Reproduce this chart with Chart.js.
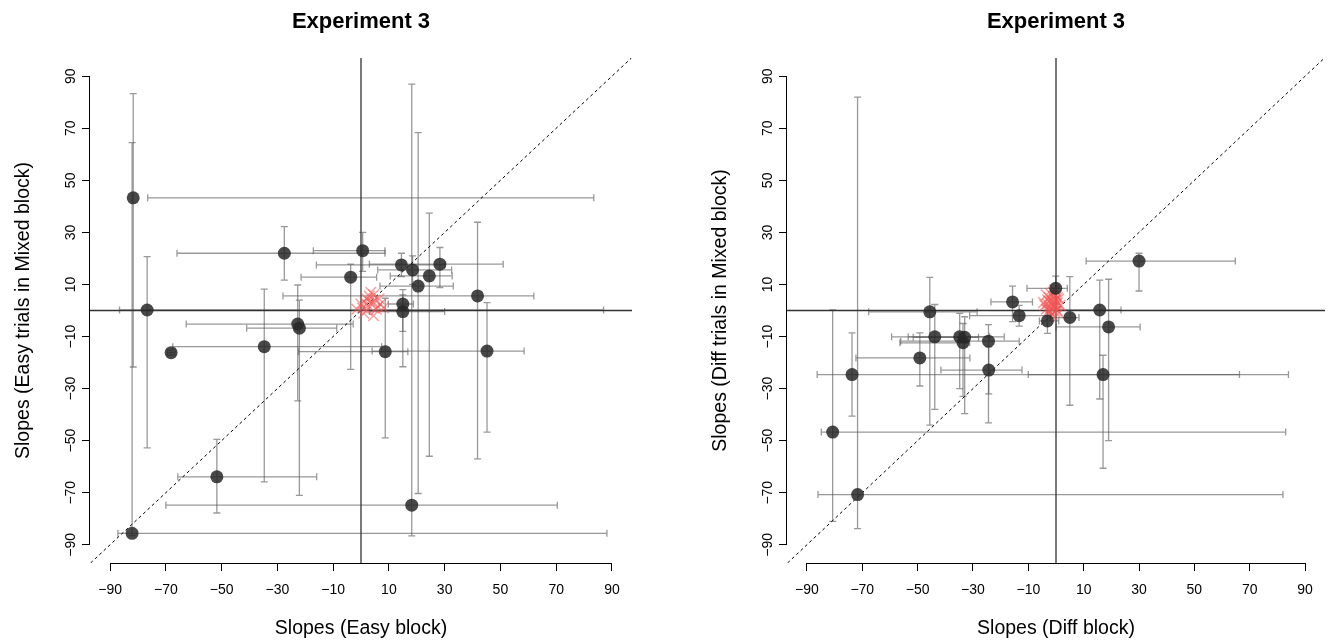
<!DOCTYPE html>
<html>
<head>
<meta charset="utf-8">
<script src="https://cdn.jsdelivr.net/npm/chart.js@4.4.1/dist/chart.umd.min.js"></script>
<style>
  html, body { margin: 0; padding: 0; background: #fff; }
  #wrap { position: relative; width: 1334px; height: 641px; }
  .panel { position: absolute; top: 0; width: 667px; height: 641px; }
</style>
</head>
<body>
<div id="wrap">
  <div class="panel" style="left:0"><canvas id="left" width="667" height="641"></canvas></div>
  <div class="panel" style="left:667px"><canvas id="right" width="667" height="641"></canvas></div>
</div>
<script>
const tickValues = [-90, -70, -50, -30, -10, 10, 30, 50, 70, 90];

// Easy block vs easy trials in mixed block (estimate + interval each way)
const easyX   = [-81.7, -76.7, -68.1, -82.1, -51.7, -34.7, -27.5, -22.7, -22.1, 0.6, -3.7, 14.5, 28.3, 18.5, 24.5, 20.5, 41.8, 15.0, 15.0, 8.7, 45.2, 18.2];
const easyY   = [43.3, 0.2, -16.2, -85.6, -63.9, -13.9, 22.0, -5.2, -6.8, 23.0, 12.8, 17.5, 17.8, 15.6, 13.3, 9.4, 5.6, 2.5, -0.4, -15.8, -15.6, -74.8];
const easyXLo = [-76.5, -86.6, -69.5, -87.2, -65.7, -67.5, -66.0, -62.7, -41.0, -17.1, -21.5, -16.0, 3.0, 6.0, 10.5, 6.8, -28.0, 9.8, 3.0, -22.4, 4.0, -70.0];
const easyXHi = [83.5, 87.0, -66.7, 88.2, -15.9, 7.4, 8.6, -2.8, -8.7, 8.6, 5.6, 30.0, 51.0, 32.5, 32.7, 33.1, 62.0, 18.8, 30.0, 16.8, 58.5, 70.4];
const easyYLo = [-21.7, -52.8, -17.2, -86.5, -77.8, -65.8, 11.7, -34.7, -71.0, 15.0, -22.6, 13.0, 8.8, 10.0, -56.0, -70.3, -57.0, -21.6, -8.0, -48.9, -46.7, -86.6];
const easyYHi = [83.3, 20.7, -15.2, 64.5, -49.5, 8.2, 32.2, 9.8, 4.0, 30.0, 17.8, 22.0, 24.2, 21.0, 37.4, 68.3, 33.9, 8.0, 6.0, 4.7, 3.0, 87.0];
const easySimX = [-1.5, 0.5, 1.5, 2.5, 3.0, 4.0, 5.0, 6.0, 2.0, 3.5, 4.5, 7.0, 1.0, 5.5, 3.0, 6.5, 2.0, 8.0, 0.0, 4.5];
const easySimY = [0.5, 1.0, 3.0, 2.0, 5.5, 3.0, 4.0, 1.5, 0.0, 7.0, 6.0, 2.5, -1.0, 0.5, 3.5, 4.5, 4.5, 1.0, 2.5, -2.0];

// Diff block vs diff trials in mixed block
const diffX   = [-45.6, -15.7, -13.3, -43.8, -34.8, -33.0, -33.6, -24.4, -49.2, -24.3, -73.7, -80.7, -71.7, -0.1, -3.1, 5.0, 30.0, 15.8, 19.0, 17.0];
const diffY   = [-0.5, 3.3, -2.0, -10.1, -10.1, -10.3, -12.4, -11.8, -18.2, -22.9, -24.6, -46.7, -70.7, 8.5, -4.0, -2.7, 19.0, 0.2, -6.3, -24.6];
const diffXLo = [-67.7, -23.5, -31.2, -59.4, -53.4, -51.6, -56.4, -56.1, -72.3, -41.6, -86.3, -84.8, -86.0, -10.5, -6.0, -2.0, 10.9, -3.0, 0.0, -10.0];
const diffXHi = [-28.5, -8.5, -2.0, -18.7, -24.0, -28.0, -31.2, -13.3, -31.1, -12.3, 84.0, 83.0, 82.0, 4.1, 1.0, 8.3, 64.8, 23.5, 30.4, 66.3];
const diffYLo = [-44.0, -4.3, -6.0, -38.0, -30.0, -39.6, -33.0, -43.2, -29.0, -32.0, -40.6, -81.0, -83.8, 0.0, -8.8, -36.4, 7.5, -34.0, -50.0, -60.6];
const diffYHi = [12.7, 9.4, 2.0, 2.3, -1.1, -2.4, -5.0, -5.4, -8.6, -14.0, -8.6, 0.2, 82.0, 13.2, 0.0, 13.0, 22.0, 11.7, 12.0, -17.2];
const diffSimX = [-2.0, -1.0, 0.0, -1.5, -0.5, 0.5, -2.5, -1.0, 0.0, 1.0, -3.0, -1.5, -0.5, 0.5, -2.0, -1.0, 0.0, 1.5, -2.5, -0.5, 1.0, -1.5, -3.5, 0.5, -1.0, -2.0, 0.0, -0.5, -4.0, -3.0, -2.5, -4.5, -3.5, -2.0];
const diffSimY = [1.0, 2.0, 1.5, 3.5, 4.0, 3.0, 5.0, 5.5, 6.0, 4.5, 2.5, 0.5, -0.5, 0.0, 6.5, 7.0, 2.5, 2.0, 3.5, 1.0, -1.0, -1.5, 0.5, 5.0, 3.0, -0.5, 4.0, 8.0, 2.0, 4.0, 0.0, 3.0, 6.0, -2.0];

const FONT = '"Liberation Sans", Arial, Helvetica, sans-serif';
const fmt = v => String(v).replace('-', '\u2212');
const pts = (xs, ys) => xs.map((x, i) => ({ x, y: ys[i] }));

// R-like decorations: ablines, error bars, axis lines, rotated y labels
function rPlot(err) {
  return {
    id: 'rPlot',
    beforeDatasetsDraw(chart) {
      const { ctx, chartArea: a, scales: { x, y } } = chart;
      ctx.save();
      ctx.beginPath();
      ctx.rect(a.left, a.top, a.width, a.height);
      ctx.clip();

      // error bars
      ctx.strokeStyle = 'rgba(85,85,85,0.6)';
      ctx.lineWidth = 1.3;
      err.x.forEach((v, i) => {
        const px = x.getPixelForValue(v), py = y.getPixelForValue(err.y[i]);
        const x0 = x.getPixelForValue(err.xlo[i]), x1 = x.getPixelForValue(err.xhi[i]);
        const y0 = y.getPixelForValue(err.ylo[i]), y1 = y.getPixelForValue(err.yhi[i]);
        ctx.beginPath();
        ctx.moveTo(x0, py); ctx.lineTo(x1, py);
        ctx.moveTo(x0, py - 3.5); ctx.lineTo(x0, py + 3.5);
        ctx.moveTo(x1, py - 3.5); ctx.lineTo(x1, py + 3.5);
        ctx.moveTo(px, y0); ctx.lineTo(px, y1);
        ctx.moveTo(px - 3.5, y0); ctx.lineTo(px + 3.5, y0);
        ctx.moveTo(px - 3.5, y1); ctx.lineTo(px + 3.5, y1);
        ctx.stroke();
      });

      // h = 0, v = 0
      ctx.strokeStyle = '#333';
      ctx.lineWidth = 1.3;
      ctx.beginPath();
      ctx.moveTo(a.left, y.getPixelForValue(0)); ctx.lineTo(a.right, y.getPixelForValue(0));
      ctx.moveTo(x.getPixelForValue(0), a.top); ctx.lineTo(x.getPixelForValue(0), a.bottom);
      ctx.stroke();

      // identity line
      ctx.strokeStyle = '#000';
      ctx.lineWidth = 1;
      ctx.setLineDash([3, 3]);
      ctx.beginPath();
      ctx.moveTo(x.getPixelForValue(y.min), y.getPixelForValue(y.min));
      ctx.lineTo(x.getPixelForValue(y.max), y.getPixelForValue(y.max));
      ctx.stroke();
      ctx.restore();
    },
    afterDraw(chart) {
      const { ctx, chartArea: a, scales: { x, y } } = chart;
      const first = tickValues[0], last = tickValues[tickValues.length - 1];
      ctx.save();
      ctx.strokeStyle = '#000';
      ctx.lineWidth = 1;
      ctx.beginPath();
      ctx.moveTo(x.getPixelForValue(first), a.bottom + 0.5);
      ctx.lineTo(x.getPixelForValue(last), a.bottom + 0.5);
      ctx.moveTo(a.left - 0.5, y.getPixelForValue(first));
      ctx.lineTo(a.left - 0.5, y.getPixelForValue(last));
      ctx.stroke();

      ctx.font = '14px ' + FONT;
      ctx.fillStyle = '#000';
      ctx.textAlign = 'center';
      ctx.textBaseline = 'middle';
      y.ticks.forEach(t => {
        ctx.save();
        ctx.translate(y.right - 19, y.getPixelForValue(t.value));
        ctx.rotate(-Math.PI / 2);
        ctx.fillText(fmt(t.value), 0, 0);
        ctx.restore();
      });
      ctx.restore();
    }
  };
}

function makePanel(id, d, padLeft, padRight) {
  const axisBase = {
    type: 'linear',
    afterBuildTicks: s => { s.ticks = tickValues.map(value => ({ value })); },
    border: { display: false },
    grid: { drawOnChartArea: false, drawTicks: true, tickLength: 8, color: '#000', lineWidth: 1 },
  };
  return new Chart(document.getElementById(id), {
    type: 'scatter',
    data: {
      datasets: [
        {
          data: pts(d.x, d.y),
          pointRadius: 6.5,
          pointHoverRadius: 6.5,
          backgroundColor: 'rgba(40,40,40,0.85)',
          borderWidth: 0,
        },
        {
          data: pts(d.simX, d.simY),
          pointStyle: 'crossRot',
          pointRadius: 7.5,
          pointHoverRadius: 7.5,
          borderColor: 'rgba(240,85,85,0.55)',
          borderWidth: 1.5,
        }
      ]
    },
    options: {
      responsive: false,
      animation: false,
      devicePixelRatio: 1,
      layout: { padding: { left: padLeft, right: padRight, top: 0, bottom: 0 } },
      plugins: {
        legend: { display: false },
        tooltip: { enabled: false },
        title: {
          display: true,
          text: 'Experiment 3',
          fullSize: false,
          color: '#000',
          font: { family: FONT, size: 22, weight: 'bold', lineHeight: 1.2 },
          padding: { top: 9, bottom: 22.6 },
        }
      },
      scales: {
        x: {
          ...axisBase,
          min: -97.2, max: 97.2,
          afterFit: s => { s.height = 78; },
          ticks: { color: '#000', padding: 11, font: { family: FONT, size: 14 }, callback: v => fmt(v), maxRotation: 0, autoSkip: false },
          title: { display: true, text: d.xTitle, color: '#000', font: { family: FONT, size: 19.5 }, padding: { top: 0, bottom: 1 } },
        },
        y: {
          ...axisBase,
          min: -97, max: 97,
          afterFit: s => { s.width = 90; },
          ticks: { display: false },
          title: { display: true, text: d.yTitle, color: '#000', font: { family: FONT, size: 19.5 }, padding: { top: 12, bottom: 0 } },
        }
      }
    },
    plugins: [rPlot({ x: d.x, y: d.y, xlo: d.xlo, xhi: d.xhi, ylo: d.ylo, yhi: d.yhi })]
  });
}

makePanel('left', {
  x: easyX, y: easyY, xlo: easyXLo, xhi: easyXHi, ylo: easyYLo, yhi: easyYHi,
  simX: easySimX, simY: easySimY,
  xTitle: 'Slopes (Easy block)', yTitle: 'Slopes (Easy trials in Mixed block)'
}, 0, 35);

makePanel('right', {
  x: diffX, y: diffY, xlo: diffXLo, xhi: diffXHi, ylo: diffYLo, yhi: diffYHi,
  simX: diffSimX, simY: diffSimY,
  xTitle: 'Slopes (Diff block)', yTitle: 'Slopes (Diff trials in Mixed block)'
}, 30, 5);
</script>
</body>
</html>
